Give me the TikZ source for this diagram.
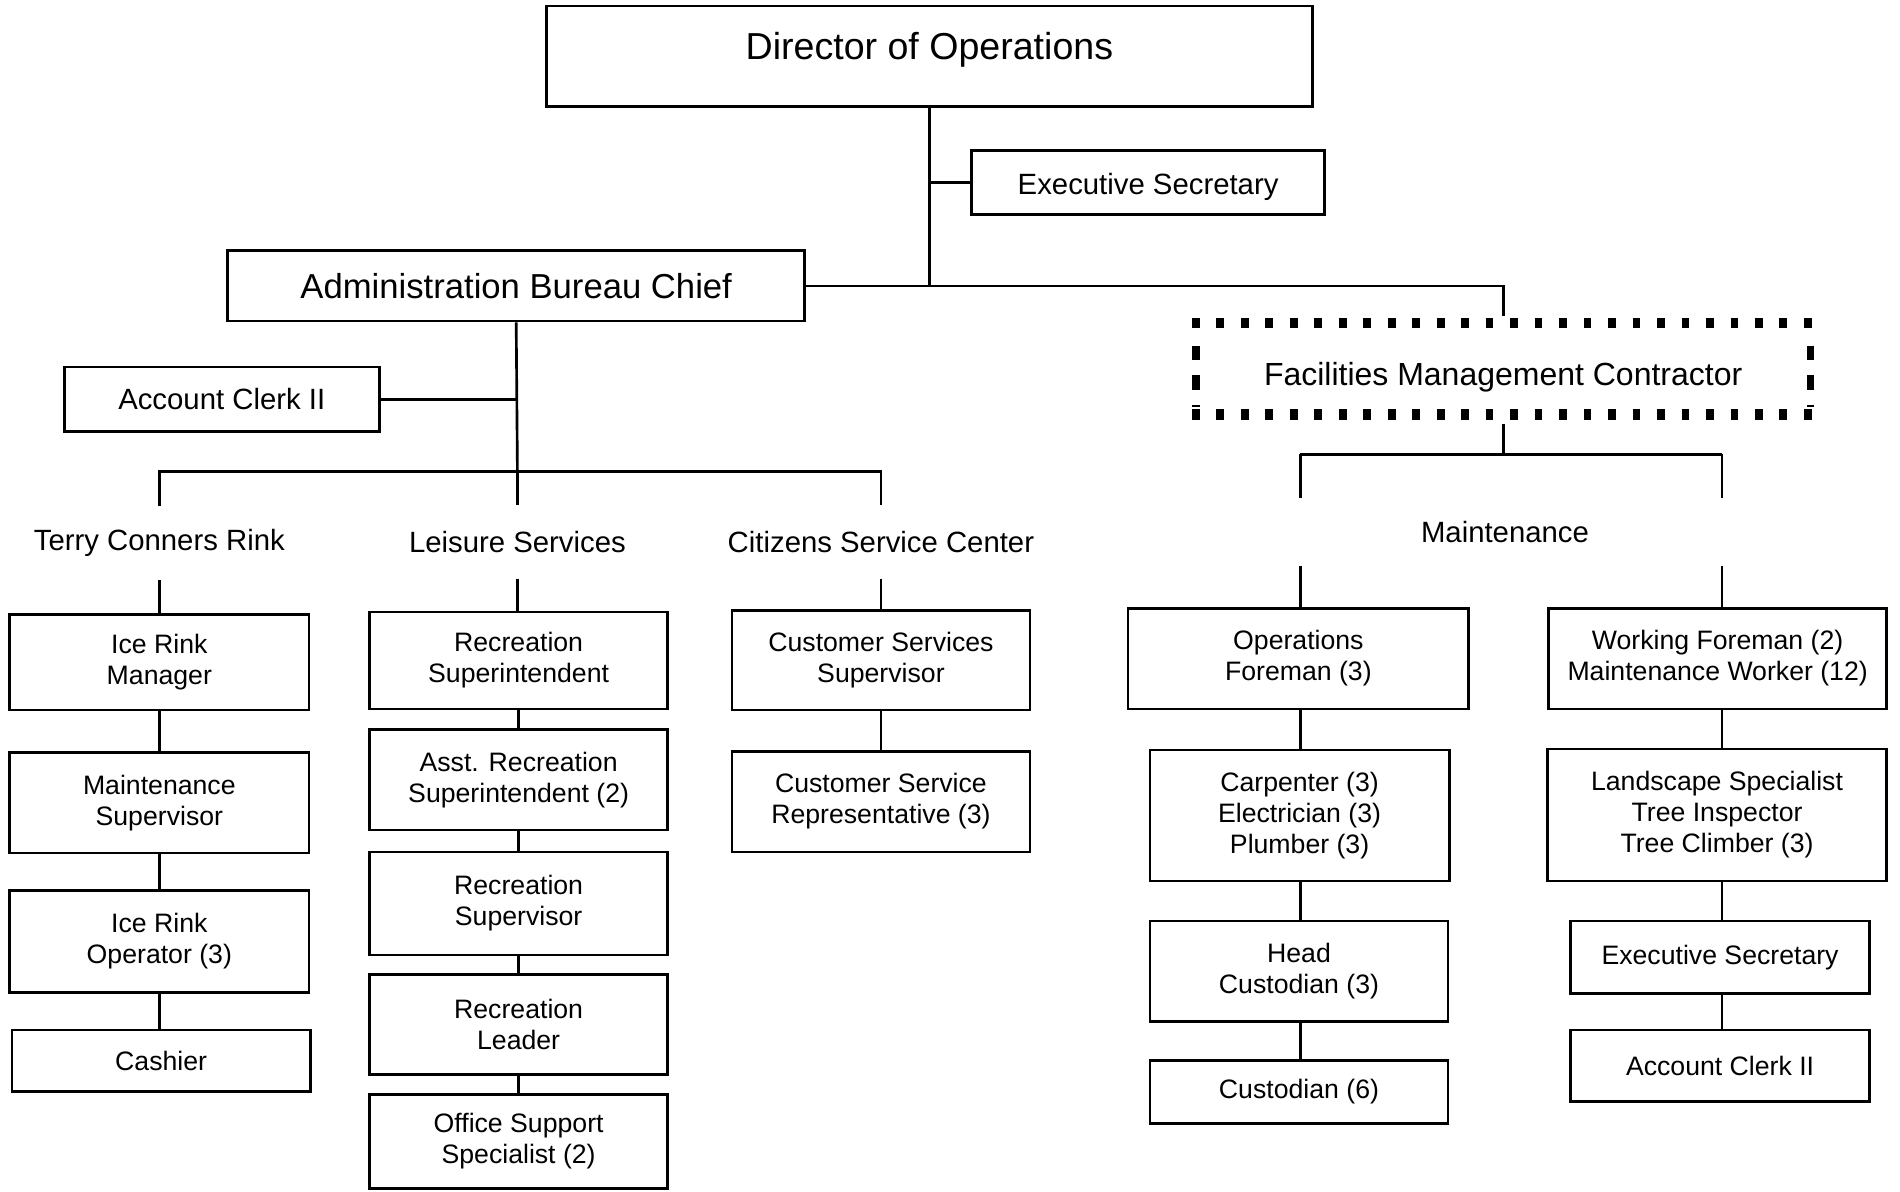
\documentclass[tikz,border=0pt]{standalone}
\usepackage{fontspec}
\setmainfont{Liberation Sans}
\begin{document}
\begin{tikzpicture}[x=0.5pt, y=-0.5pt, line width=1.1pt,
  every node/.style={inner sep=0pt, align=center},
  sz/.style 2 args={minimum width=#1, minimum height=#2},
  unit/.style={draw, rectangle, font=\fontsize{11}{12.8}\selectfont},
  mid/.style={draw, rectangle, font=\fontsize{12.1}{14}\selectfont},
  group/.style={font=\fontsize{12.1}{14}\selectfont},
  dotrow/.style={line width=4.2pt, dash pattern=on 3.2pt off 6.9pt},
  dotcol/.style={line width=3.2pt, dash pattern=on 6pt off 6.17pt, dash phase=6.2pt},
]
\fill[white] (0,0) rectangle (1568,983);
\useasboundingbox (0,0) rectangle (1568,983);

% top level
\node[draw, rectangle, minimum width=316pt, text height=22pt, text depth=19.5pt,
      font=\fontsize{15.5}{18}\selectfont] (dir) at (767,46.5) {Director of Operations};
\node[draw, rectangle, minimum width=145.5pt, text height=18.35pt, text depth=8.15pt,
      font=\fontsize{12.1}{14}\selectfont] (es) at (947.5,150.5) {Executive Secretary};
\node[draw, rectangle, sz={238pt}{29pt}, font=\fontsize{14.3}{17}\selectfont] (admin) at (426,236) {Administration Bureau Chief};
\node[mid, sz={130pt}{26.5pt}] (acl) at (183,329.5) {Account Clerk II};

% contractor box with square dots
\node[minimum width=252.5pt, text height=25.25pt, text depth=11.25pt,
      font=\fontsize{13.2}{15}\selectfont] (fmc) at (1240.5,304.5) {Facilities Management Contractor};
\draw[dotrow] ([xshift=-1.6pt]fmc.north west) -- ([xshift=1.6pt]fmc.north east);
\draw[dotrow] ([xshift=-1.6pt]fmc.south west) -- ([xshift=1.6pt]fmc.south east);
\draw[dotcol] ([yshift=-3.2pt]fmc.north west) -- ([yshift=3.2pt]fmc.south west);
\draw[dotcol] ([yshift=-3.2pt]fmc.north east) -- ([yshift=3.2pt]fmc.south east);

% group headings
\node[group, minimum height=29.5pt] (terry) at (131.5,448) {Terry Conners Rink};
\node[group, minimum height=29.5pt] (leisure) at (427,447) {Leisure Services};
\node[group, minimum height=29.5pt] (citizens) at (727,447) {Citizens Service Center};
\node[group, minimum height=27pt] (maint) at (1242,439) {Maintenance};

% rink column
\node[unit, sz={123.5pt}{39.5pt}] (irm) at (131.5,546.5) {Ice Rink\\Manager};
\node[unit, sz={123.5pt}{41.5pt}] (ms) at (131.5,662.5) {Maintenance\\Supervisor};
\node[unit, sz={123.5pt}{42pt}] (iro) at (131.5,777) {Ice Rink\\Operator (3)};
\node[unit, sz={123pt}{25.5pt}] (cash) at (133,875.5) {Cashier};

% leisure column
\node[unit, sz={123pt}{40pt}] (rs) at (428,545) {Recreation\\Superintendent};
\node[unit, sz={123pt}{41.5pt}] (ars) at (428,643.5) {Asst. Recreation\\Superintendent (2)};
\node[unit, sz={123pt}{42.5pt}] (rsup) at (428,745.5) {Recreation\\Supervisor};
\node[unit, sz={123pt}{41.5pt}] (rl) at (428,845.5) {Recreation\\Leader};
\node[unit, sz={123pt}{39pt}] (oss) at (428,942) {Office Support\\Specialist (2)};

% citizens column
\node[unit, sz={123pt}{41pt}] (css) at (727,545) {Customer Services\\Supervisor};
\node[unit, sz={123pt}{41.5pt}] (csr) at (727,661.5) {Customer Service\\Representative (3)};

% maintenance, left column
\node[unit, sz={140.5pt}{41.5pt}] (of) at (1071.5,543.5) {Operations\\Foreman (3)};
\node[unit, sz={123.5pt}{54pt}] (cep) at (1072.5,673) {Carpenter (3)\\Electrician (3)\\Plumber (3)};
\node[unit, sz={123pt}{41.5pt}] (hc) at (1072,801.5) {Head\\Custodian (3)};
\node[unit, sz={123pt}{26pt}] (cus) at (1072,901) {Custodian (6)};

% maintenance, right column
\node[unit, sz={139.5pt}{41.5pt}] (wf) at (1417.5,543.5) {Working Foreman (2)\\Maintenance Worker (12)};
\node[unit, sz={140pt}{54.5pt}] (lsp) at (1417,672.5) {Landscape Specialist\\Tree Inspector\\Tree Climber (3)};
\node[unit, sz={123.5pt}{30pt}] (es2) at (1419.5,790) {Executive Secretary};
\node[unit, sz={123.5pt}{29.5pt}] (acr) at (1419.5,879.5) {Account Clerk II};

% connectors: top level
\draw (dir.south) -- (dir.south |- admin.east);
\draw (dir.south |- es.west) -- (es.west);
\draw (admin.east) -| ([yshift=3pt]fmc.north);

% connectors: administration
\coordinate (abus) at (427,389);
\draw (admin.south) -- (abus);
\draw (acl.east) -- (acl.east -| admin.south);
\draw (terry.north) -- (terry.north |- abus) -- (citizens.north |- abus) -- (citizens.north);
\draw (abus) -- (leisure.north);
\draw (terry.south) -- (terry.south |- irm.north);
\draw (leisure.south) -- (leisure.south |- rs.north);
\draw (citizens.south) -- (citizens.south |- css.north);

\draw (irm.south) -- (irm.south |- ms.north);
\draw (ms.south) -- (ms.south |- iro.north);
\draw (iro.south) -- (iro.south |- cash.north);

\draw (rs.south) -- (rs.south |- ars.north);
\draw (ars.south) -- (ars.south |- rsup.north);
\draw (rsup.south) -- (rsup.south |- rl.north);
\draw (rl.south) -- (rl.south |- oss.north);

\draw (css.south) -- (css.south |- csr.north);

% connectors: maintenance
\coordinate (b4) at (1073,375);
\coordinate (b5) at (1421,375);
\draw ([yshift=-4pt]fmc.south) -- (fmc.south |- b4);
\draw (b4) -- (b5);
\draw (b4) -- (b4 |- maint.north);
\draw (b5) -- (b5 |- maint.north);
\draw (b4 |- maint.south) -- (b4 |- of.north);
\draw (b5 |- maint.south) -- (b5 |- wf.north);

\draw (b4 |- of.south) -- (b4 |- cep.north);
\draw (b4 |- cep.south) -- (b4 |- hc.north);
\draw (b4 |- hc.south) -- (b4 |- cus.north);

\draw (b5 |- wf.south) -- (b5 |- lsp.north);
\draw (b5 |- lsp.south) -- (b5 |- es2.north);
\draw (b5 |- es2.south) -- (b5 |- acr.north);
\end{tikzpicture}
\end{document}
